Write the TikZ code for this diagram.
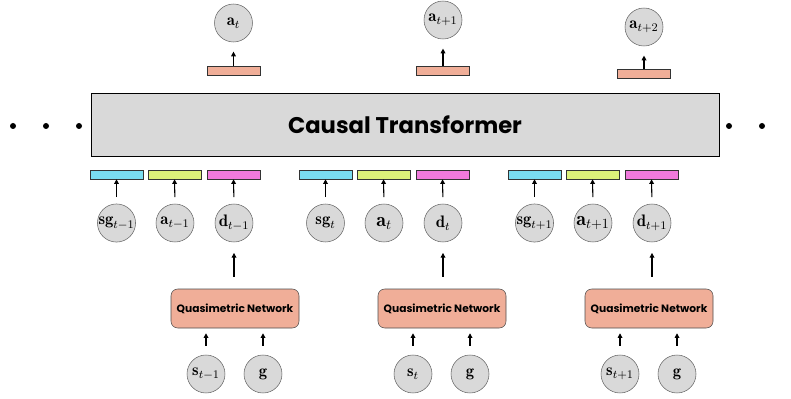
\documentclass[tikz,border=0pt]{standalone}
\usepackage{fix-cm}
\usepackage{fontspec}
\newfontfamily\popfont{Poppins}
\usetikzlibrary{positioning,arrows.meta}
\definecolor{embcyan}{HTML}{7ADCF0}
\definecolor{embyellow}{HTML}{DCF07A}
\definecolor{embpink}{HTML}{F07ADC}
\definecolor{netsalmon}{HTML}{F0AE98}
\definecolor{boxgray}{HTML}{D9D9D9}

\begin{document}
\begin{tikzpicture}[x=0.75pt, y=-0.75pt,
    tok/.style={circle, draw=black!60, fill=boxgray, minimum size=28.5pt, inner sep=0pt, font=\fontsize{12.5}{14}\selectfont},
    emb/.style={draw=black!80, minimum width=39.75pt, minimum height=6.75pt, inner sep=0pt},
    qnet/.style={draw=black!70, fill=netsalmon, rounded corners=5pt, minimum width=96pt, minimum height=29.25pt, font=\popfont\bfseries\fontsize{8}{9}\selectfont},
    arr/.style={-{Triangle[length=3.5pt,width=3.5pt]}, line width=0.8pt}]
    \useasboundingbox (0,0) rectangle (791,399);

    % Causal transformer block with the dots on both sides
    \node[draw=black, fill=boxgray, minimum width=471pt, minimum height=47.25pt, font=\popfont\bfseries\fontsize{17}{20}\selectfont] (trans) at (405,124.5) {Causal Transformer};
    \foreach \x in {13,46,79,729,762}
    \fill (\x,126) circle (2.25pt);

    % one time step per loop: embeddings, tokens, quasimetric net, output action
    \foreach \g/\k/\o/\asz/\nx/\ox/\oy/\by in {0/t-1/t/12.5/235/233.5/23/70.5, 1/t/t+1/15/442/443/20/70.5, 2/t+1/t+2/15/649/644/27/74}{
        \pgfmathsetmacro{\cx}{209*\g}
        \node[emb, fill=embcyan] (ec\g) at (116.5+\cx,174.5) {};
        \node[emb, fill=embyellow] (ey\g) at (174.5+\cx,174.5) {};
        \node[emb, fill=embpink] (ep\g) at (233.5+\cx,174.5) {};

        \node[tok] (sg\g) at (116.5+\cx,223) {$\mathbf{sg}_{\k}$};
        \node[tok] (a\g) at (175+\cx,223) {\fontsize{\asz}{16}\selectfont$\mathbf{a}_{\k}$};
        \node[tok] (d\g) at (234+\cx,223) {$\mathbf{d}_{\k}$};
        \draw[arr, shorten <=5pt] (sg\g.north) -- (ec\g.south);
        \draw[arr, shorten <=5pt] (a\g.north) -- (ey\g.south);
        \draw[arr, shorten <=5pt] (d\g.north) -- (ep\g.south);

        \node[qnet] (net\g) at (\nx,308.5) {Quasimetric Network};
        \draw[arr, shorten <=9pt, shorten >=8pt] (d\g.south |- net\g.north) -- (d\g.south);

        \node[tok] (s\g) at (\nx-29,374) {$\mathbf{s}_{\k}$};
        \node[tok] (goal\g) at (\nx+28,374) {$\mathbf{g}$};
        \draw[arr, shorten <=6.75pt, shorten >=3.75pt] (s\g.north) -- (s\g.north |- net\g.south);
        \draw[arr, shorten <=6.75pt, shorten >=3.75pt] (goal\g.north) -- (goal\g.north |- net\g.south);

        % predicted action
        \node[emb, fill=netsalmon] (out\g) at (\ox,\by) {};
        \node[tok] (act\g) at (\ox,\oy) {$\mathbf{a}_{\o}$};
        \draw[arr, shorten >=7pt] (out\g.north) -- (act\g.south);
    }
\end{tikzpicture}
\end{document}
